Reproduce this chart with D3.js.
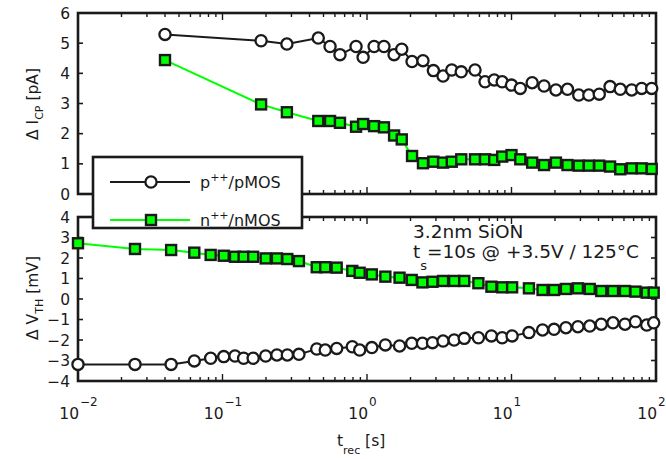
<!DOCTYPE html>
<html>
<head>
<meta charset="utf-8">
<script src="https://cdn.jsdelivr.net/npm/d3@7"></script>
<style>
  body { margin: 0; background: #fff; }
  text { font-family: "DejaVu Sans", sans-serif; fill: #1a1a1a; }
</style>
</head>
<body>
<svg id="chart" width="666" height="459"></svg>
<script>
// top panel: delta I_CP [pA] vs recovery time [s]
const tTop = [0.040, 0.185, 0.279, 0.460, 0.555, 0.650, 0.840, 0.94, 1.12, 1.31,
  1.54, 1.74, 2.05, 2.44, 2.88, 3.36, 3.86, 4.49, 5.59, 6.56,
  7.59, 8.62, 10.0, 11.5, 13.9, 16.8, 20.3, 24.4, 29.2, 34.3,
  40.5, 48.1, 56.6, 67.9, 79.6, 93.4];
const icpP = [5.29, 5.08, 4.97, 5.17, 4.89, 4.62, 4.89, 4.53, 4.89, 4.89,
  4.62, 4.80, 4.39, 4.42, 4.09, 3.91, 4.11, 4.05, 4.11, 3.72,
  3.78, 3.72, 3.61, 3.50, 3.69, 3.58, 3.45, 3.47, 3.28, 3.28,
  3.31, 3.56, 3.47, 3.45, 3.50, 3.50];
const icpN = [4.44, 2.97, 2.71, 2.42, 2.42, 2.36, 2.23, 2.32, 2.25, 2.21,
  1.94, 1.81, 1.26, 1.02, 1.07, 1.04, 1.07, 1.15, 1.15, 1.15,
  1.13, 1.24, 1.29, 1.15, 1.04, 0.96, 1.04, 0.96, 0.94, 0.94,
  0.94, 0.91, 0.82, 0.85, 0.85, 0.83];

// bottom panel: delta V_TH [mV] vs recovery time [s]
const tBot = [0.010, 0.0248, 0.0441, 0.0638, 0.0828, 0.102, 0.122, 0.140, 0.163, 0.199,
  0.238, 0.281, 0.338, 0.449, 0.514, 0.617, 0.791, 0.890, 1.08, 1.34,
  1.68, 2.04, 2.42, 2.84, 3.36, 4.01, 4.71, 5.90, 7.26, 8.62,
  10.1, 13.2, 16.4, 19.7, 23.8, 28.8, 34.8, 41.8, 50.4, 61.0,
  72.1, 86.3, 96.4];
const vthP = [-3.19, -3.19, -3.19, -3.02, -2.89, -2.81, -2.78, -2.89, -2.89, -2.78,
  -2.73, -2.73, -2.70, -2.44, -2.49, -2.41, -2.33, -2.49, -2.37, -2.24,
  -2.29, -2.16, -2.16, -2.13, -2.05, -2.00, -1.92, -1.89, -1.80, -1.89,
  -1.80, -1.64, -1.51, -1.48, -1.40, -1.35, -1.32, -1.23, -1.16, -1.23,
  -1.11, -1.27, -1.16];
const vthN = [2.72, 2.44, 2.39, 2.26, 2.15, 2.11, 2.06, 2.06, 2.06, 1.98,
  1.98, 1.95, 1.85, 1.55, 1.55, 1.53, 1.37, 1.28, 1.20, 1.09,
  1.04, 0.93, 0.81, 0.84, 0.88, 0.88, 0.88, 0.77, 0.60, 0.57,
  0.57, 0.52, 0.44, 0.44, 0.49, 0.52, 0.49, 0.39, 0.39, 0.39,
  0.36, 0.31, 0.31];

const yTicksTop = [0, 1, 2, 3, 4, 5, 6];
const yTicksBot = [-4, -3, -2, -1, 0, 1, 2, 3, 4];
const xDecades = [-2, -1, 0, 1, 2];

const ink = "#1a1a1a";
const green = "#00ff00";

const svg = d3.select("#chart");
svg.append("rect").attr("width", 666).attr("height", 459).attr("fill", "#fff");

const x = d3.scaleLog().domain([0.01, 100]).range([78, 656]);
const yTop = d3.scaleLinear().domain([0, 6]).range([194, 13]);
const yBot = d3.scaleLinear().domain([-4, 4]).range([381, 217]);

const fmtMinus = v => v < 0 ? "\u2212" + Math.abs(v) : String(v);

function drawPanel(y, yTicks, tArr, pVals, nVals, showXLabels) {
  const g = svg.append("g");
  const [x0, x1] = x.range();
  const [yb, yt] = y.range();

  // 框
  g.append("rect")
    .attr("x", x0).attr("y", yt)
    .attr("width", x1 - x0).attr("height", yb - yt)
    .attr("fill", "none").attr("stroke", ink).attr("stroke-width", 2.6);

  // y 刻度（左右两侧，朝内）
  yTicks.forEach(v => {
    g.append("line").attr("x1", x0).attr("x2", x0 + 5)
      .attr("y1", y(v)).attr("y2", y(v)).attr("stroke", ink).attr("stroke-width", 1.6);
    g.append("line").attr("x1", x1).attr("x2", x1 - 5)
      .attr("y1", y(v)).attr("y2", y(v)).attr("stroke", ink).attr("stroke-width", 1.6);
    g.append("text")
      .attr("x", 70).attr("y", y(v)).attr("dy", "0.36em")
      .attr("text-anchor", "end").attr("font-size", 15.5)
      .text(fmtMinus(v));
  });

  // x 对数刻度（上下两侧，朝内）
  x.ticks().forEach(t => {
    const major = Math.abs(Math.log10(t) - Math.round(Math.log10(t))) < 1e-9;
    const len = major ? 7 : 4;
    g.append("line").attr("x1", x(t)).attr("x2", x(t))
      .attr("y1", yb).attr("y2", yb - len).attr("stroke", ink).attr("stroke-width", 1.4);
    g.append("line").attr("x1", x(t)).attr("x2", x(t))
      .attr("y1", yt).attr("y2", yt + len).attr("stroke", ink).attr("stroke-width", 1.4);
  });

  if (showXLabels) {
    xDecades.forEach(e => {
      const px = x(Math.pow(10, e));
      g.append("text").attr("x", px + 1).attr("y", 419)
        .attr("text-anchor", "end").attr("font-size", 15.5).text("10");
      g.append("text").attr("x", px + 2).attr("y", 406)
        .attr("text-anchor", "start").attr("font-size", 12).text(fmtMinus(e));
    });
  }

  const line = d3.line().x(d => x(d[0])).y(d => y(d[1]));
  const pPts = tArr.map((t, i) => [t, pVals[i]]);
  const nPts = tArr.map((t, i) => [t, nVals[i]]);

  g.append("path").datum(pPts).attr("d", line)
    .attr("fill", "none").attr("stroke", ink).attr("stroke-width", 2);
  g.selectAll("circle.p").data(pPts).join("circle")
    .attr("class", "p")
    .attr("cx", d => x(d[0])).attr("cy", d => y(d[1])).attr("r", 5.6)
    .attr("fill", "#fff").attr("stroke", ink).attr("stroke-width", 2.3);

  g.append("path").datum(nPts).attr("d", line)
    .attr("fill", "none").attr("stroke", green).attr("stroke-width", 2);
  g.selectAll("rect.n").data(nPts).join("rect")
    .attr("class", "n")
    .attr("x", d => x(d[0]) - 5).attr("y", d => y(d[1]) - 5)
    .attr("width", 10).attr("height", 10)
    .attr("fill", green).attr("stroke", ink).attr("stroke-width", 2.4);
}

drawPanel(yTop, yTicksTop, tTop, icpP, icpN, false);
drawPanel(yBot, yTicksBot, tBot, vthP, vthN, true);

// y 轴标题
const yl1 = svg.append("text").attr("transform", "translate(38,104) rotate(-90)")
  .attr("text-anchor", "middle").attr("font-size", 15.5);
yl1.append("tspan").text("\u0394 I");
yl1.append("tspan").attr("dy", 5).attr("font-size", 11).text("CP");
yl1.append("tspan").attr("dy", -5).text(" [pA]");

const yl2 = svg.append("text").attr("transform", "translate(38,298) rotate(-90)")
  .attr("text-anchor", "middle").attr("font-size", 15.5);
yl2.append("tspan").text("\u0394 V");
yl2.append("tspan").attr("dy", 5).attr("font-size", 11).text("TH");
yl2.append("tspan").attr("dy", -5).text(" [mV]");

// x 轴标题
const xl = svg.append("text").attr("x", 337).attr("y", 446).attr("font-size", 15.5);
xl.append("tspan").text("t");
xl.append("tspan").attr("dy", 8).attr("font-size", 11).text("rec");
xl.append("tspan").attr("dy", -8).text(" [s]");

// 注释
svg.append("text").attr("x", 413).attr("y", 238).attr("font-size", 18.5).text("3.2nm SiON");
const an = svg.append("text").attr("x", 413).attr("y", 258).attr("font-size", 18.5);
an.append("tspan").text("t");
an.append("tspan").attr("dy", 12).attr("font-size", 13).text("s");
an.append("tspan").attr("dy", -12).text("=10s @ +3.5V / 125\u00B0C");

// 图例
const lg = svg.append("g");
lg.append("rect").attr("x", 93).attr("y", 157).attr("width", 209).attr("height", 71)
  .attr("fill", "#fff").attr("stroke", ink).attr("stroke-width", 2.6);

const legendRows = [
  { y: 182, color: ink, marker: "circle", base: "p", sup: "++", rest: "/pMOS" },
  { y: 220, color: green, marker: "square", base: "n", sup: "++", rest: "/nMOS" }
];
legendRows.forEach(r => {
  lg.append("line").attr("x1", 110).attr("x2", 190).attr("y1", r.y).attr("y2", r.y)
    .attr("stroke", r.color).attr("stroke-width", 2);
  if (r.marker === "circle") {
    lg.append("circle").attr("cx", 151).attr("cy", r.y).attr("r", 5.6)
      .attr("fill", "#fff").attr("stroke", ink).attr("stroke-width", 2.3);
  } else {
    lg.append("rect").attr("x", 146).attr("y", r.y - 5).attr("width", 10).attr("height", 10)
      .attr("fill", green).attr("stroke", ink).attr("stroke-width", 2.4);
  }
  const t = lg.append("text").attr("x", 200).attr("y", r.y + 6).attr("font-size", 16);
  t.append("tspan").text(r.base);
  t.append("tspan").attr("dy", -7).attr("font-size", 11).text(r.sup);
  t.append("tspan").attr("dy", 7).text(r.rest);
});
</script>
</body>
</html>
